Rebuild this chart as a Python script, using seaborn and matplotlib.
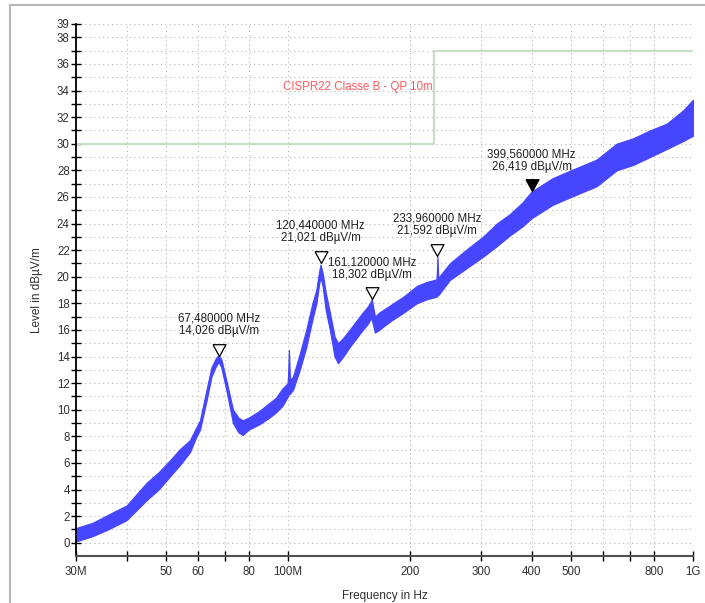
import numpy as np
import pandas as pd
import matplotlib
matplotlib.use("Agg")
import matplotlib.pyplot as plt
import seaborn as sns
from matplotlib.patches import Rectangle
from matplotlib.ticker import FixedLocator, FixedFormatter, NullFormatter

# ---- data (MHz, dBµV/m) ----
freq_mhz = [30, 33, 36, 40, 44.8, 48, 51.2, 54, 57.3, 59.5, 60.7, 63.0, 64.8, 66.5, 67.5,
            68.5, 70.5, 73.2, 75.5, 77.4, 80, 85, 90, 93.5, 97, 100, 100.6, 101.2, 103,
            107, 111, 115, 117.6, 119.5, 120.4, 122, 124, 127, 130.4, 133, 137, 142, 147,
            153, 157, 160, 161.1, 164, 168, 172, 180, 193, 208, 220, 233, 234, 235, 251,
            275, 303, 328, 353, 380, 399.6, 450, 500, 578, 648, 711, 783, 861, 945, 1000]
level_lo = [0.1, 0.5, 1.0, 1.7, 3.2, 4.0, 5.0, 5.8, 6.8, 8.0, 8.5, 10.7, 12.5, 13.3, 13.6,
            13.2, 11.5, 9.0, 8.3, 8.1, 8.5, 8.9, 9.4, 9.8, 10.3, 11.0, 11.2, 11.2, 11.5,
            13.0, 14.7, 16.8, 18.0, 19.5, 20.0, 19.2, 17.5, 16.0, 14.0, 13.5, 14.0, 14.7, 15.3,
            16.0, 16.4, 16.8, 16.8, 15.8, 16.0, 16.25, 16.7, 17.3, 18.0, 18.3, 18.5, 18.6, 18.6, 19.75,
            20.6, 21.5, 22.3, 23.1, 23.8, 24.4, 25.4, 26.0, 26.8, 28.0, 28.4, 29.0, 29.6, 30.2, 30.6]
level_hi = [1.1, 1.5, 2.1, 2.8, 4.5, 5.3, 6.2, 7.0, 7.7, 8.7, 9.2, 11.5, 13.2, 13.9, 14.1,
            13.8, 12.2, 10.0, 9.4, 9.2, 9.4, 9.9, 10.5, 10.9, 11.6, 12.0, 14.5, 12.2, 12.5,
            14.2, 16.0, 18.0, 19.0, 20.4, 20.9, 20.2, 18.8, 17.3, 15.5, 15.0, 15.4, 16.0, 16.6,
            17.3, 17.7, 18.1, 18.3, 17.0, 17.3, 17.5, 17.9, 18.5, 19.3, 19.6, 19.8, 21.5, 19.9, 21.0,
            22.0, 23.0, 24.0, 24.7, 25.6, 26.4, 27.4, 28.0, 28.8, 30.0, 30.4, 31.0, 31.5, 32.5, 33.3]

limit_freq = [30, 230, 1000]
limit_level = [30, 37, 37]
limit_label = "CISPR22 Classe B - QP 10m"

marker_freq = [67.48, 120.44, 161.12, 233.96, 399.56]
marker_level = [14.026, 21.021, 18.302, 21.592, 26.419]
marker_filled = [False, False, False, False, True]

xtick_major = [30, 50, 60, 80, 100, 200, 300, 400, 500, 800, 1000]
xtick_labels = ["30M", "50", "60", "80", "100M", "200", "300", "400", "500", "800", "1G"]
xtick_minor = [40, 70, 600, 700]

# ---- figure ----
sns.set_style("white")
plt.rcParams["font.family"] = ["Liberation Sans", "DejaVu Sans"]
fig = plt.figure(figsize=(7.05, 6.03), dpi=100)
ax = fig.add_axes([76 / 705, 1 - 556 / 603, (693 - 76) / 705, (556 - 24) / 603])
ax.set_xscale("log")

band = pd.DataFrame({
    "freq": freq_mhz + freq_mhz,
    "level": level_lo + level_hi,
})
blue = "#4646ff"
sns.lineplot(data=band, x="freq", y="level", errorbar=("pi", 100), color=blue,
             lw=0.8, err_kws={"alpha": 1.0, "linewidth": 0.9, "edgecolor": blue}, ax=ax, zorder=3)

lim = pd.DataFrame({"freq": limit_freq, "level": limit_level})
sns.lineplot(data=lim, x="freq", y="level", drawstyle="steps-post", color="#c9dfc5",
             lw=1.6, estimator=None, sort=False, ax=ax, zorder=2)
ax.text(228, 34.3, limit_label, color="#ff5a5a", fontsize=8.3, ha="right", va="center")

tri = [(-0.55, 1.0), (0.55, 1.0), (0.0, 0.0), (-0.55, 1.0)]
for f, v, filled in zip(marker_freq, marker_level, marker_filled):
    ax.plot([f], [v], marker=tri, markersize=17, markerfacecolor="black" if filled else "white",
            markeredgecolor="black", markeredgewidth=0.9, linestyle="none", zorder=5)
    fs = f"{f:.6f}".replace(".", ",")
    ls = f"{v:.3f}".replace(".", ",")
    ax.annotate(f"{fs} MHz\n{ls} dBµV/m", xy=(f, v), xytext=(0, 13.5), textcoords="offset points",
                ha="center", va="bottom", fontsize=8.3, color="#202020", linespacing=1.05, zorder=6)

ax.set_xlim(30, 1000)
ax.set_ylim(-1, 39)

ax.xaxis.set_major_locator(FixedLocator(xtick_major))
ax.xaxis.set_major_formatter(FixedFormatter(xtick_labels))
ax.xaxis.set_minor_locator(FixedLocator(xtick_minor))
ax.xaxis.set_minor_formatter(NullFormatter())
yt_major = list(range(0, 39, 2)) + [39]
ax.yaxis.set_major_locator(FixedLocator(yt_major))
ax.yaxis.set_minor_locator(FixedLocator(list(range(1, 38, 2))))
ax.yaxis.set_minor_formatter(NullFormatter())

ax.tick_params(which="both", direction="inout", length=7, width=1.0, color="black",
               labelsize=8.3, labelcolor="#303030", left=True, bottom=True)
ax.tick_params(axis="y", which="both", pad=1)
ax.tick_params(axis="x", which="both", pad=4)

ax.grid(True, which="both", color="#b4b4b4", linestyle=(0, (1, 3)), linewidth=0.8)
ax.set_axisbelow(True)

for s in ["top", "right"]:
    ax.spines[s].set_visible(False)
ax.spines["left"].set_color("black")
ax.spines["left"].set_linewidth(1.3)
ax.spines["left"].set_bounds(-1, 39)
ax.spines["bottom"].set_color("#505050")
ax.spines["bottom"].set_linewidth(1.5)

ax.set_xlabel("Frequency in Hz", fontsize=8.5, color="#303030", labelpad=8)
ax.set_ylabel("Level in dBµV/m", fontsize=8.5, color="#303030", labelpad=10)

# outer gray frame
fig.patches.append(Rectangle((9.5 / 705, -0.1), 1.2, 0.1 + (1 - 5.5 / 603),
                             transform=fig.transFigure, fill=False, edgecolor="#b8b8b8",
                             linewidth=1.5, clip_on=False))

fig.savefig("out.png", dpi=100)
